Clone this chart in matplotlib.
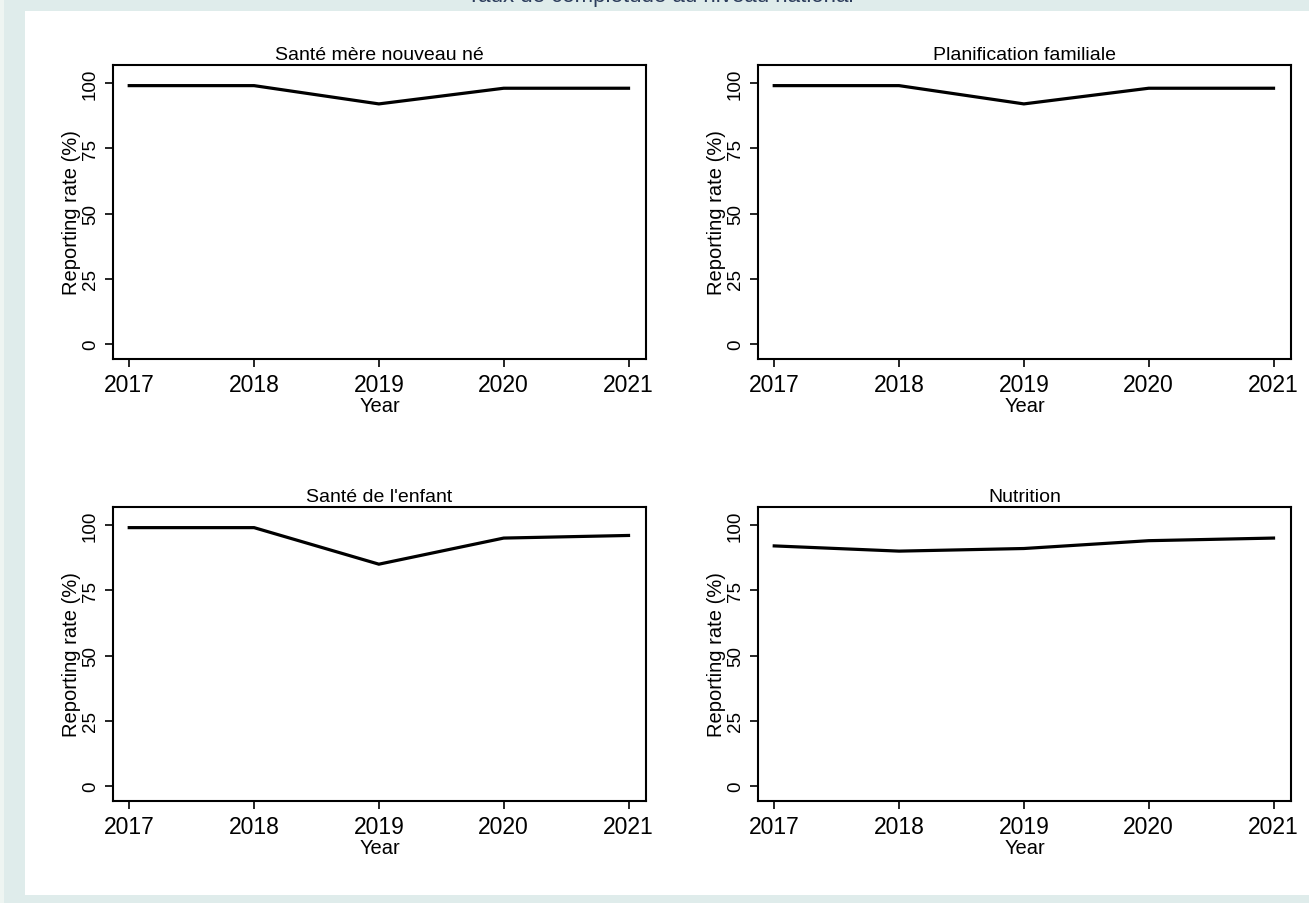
import numpy as np
import matplotlib.pyplot as plt
from matplotlib.patches import Rectangle

plt.rcParams['font.family'] = ['Liberation Sans', 'DejaVu Sans']

years = [2017, 2018, 2019, 2020, 2021]
titles = ["Santé mère nouveau né", "Planification familiale",
          "Santé de l'enfant", "Nutrition"]
smnn = [99, 99, 92, 98, 98]
pf = [99, 99, 92, 98, 98]
enfant = [99, 99, 85, 95, 96]
nutrition = [92, 90, 91, 94, 95]
series = [smnn, pf, enfant, nutrition]
yticks = [0, 25, 50, 75, 100]

W, H = 1309, 904
fig = plt.figure(figsize=(W / 100, H / 100), dpi=100)
fig.patch.set_facecolor('#dfeceb')
# light strip on the far left and the white canvas
fig.add_artist(Rectangle((0, 0), 4 / W, 1, transform=fig.transFigure,
                         facecolor='#eef5f2', edgecolor='none', zorder=0))
fig.add_artist(Rectangle((25 / W, 8 / H), 1 - 25 / W, 1 - 20 / H,
                         transform=fig.transFigure, facecolor='white',
                         edgecolor='none', zorder=0))
fig.text(660 / W, 1 - 2 / H, "Taux de complétude au niveau national",
         ha='center', va='baseline', fontsize=16, color='#2c3d5c')

lefts = [113, 758]
tops = [66, 508]
aw, ah = 533, 294

for i, (title, vals) in enumerate(zip(titles, series)):
    left = lefts[i % 2]
    top = tops[i // 2]
    ax = fig.add_axes([left / W, 1 - (top + ah) / H, aw / W, ah / H])
    ax.plot(years, vals, color='black', lw=2.3, solid_joinstyle='miter')
    ax.set_xlim(2016.87, 2021.14)
    ax.set_ylim(-5.7, 106.9)
    ax.set_xticks(years)
    ax.set_yticks(yticks)
    ax.set_yticklabels([str(t) for t in yticks], rotation=90, va='center')
    ax.tick_params(axis='x', labelsize=16.5, length=6, width=1.2, pad=4)
    ax.tick_params(axis='y', labelsize=13.5, length=6, width=1.2, pad=4)
    for s in ax.spines.values():
        s.set_linewidth(1.5)
    ax.set_title(title, fontsize=14, pad=4)
    ax.set_xlabel("Year", fontsize=14.5, labelpad=0)
    ax.set_ylabel("Reporting rate (%)", fontsize=14.5, labelpad=1)

fig.savefig('out.png', dpi=100, facecolor=fig.get_facecolor())
